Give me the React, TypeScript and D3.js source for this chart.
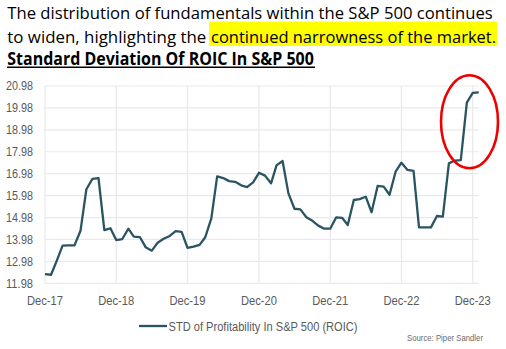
import React from "react";
import * as d3 from "d3";

const START_YEAR = 2017;
const START_MONTH = 11; // December
const roicStd: number[] = [
  12.40, 12.37, 13.05, 13.70, 13.71, 13.71, 14.38, 16.27, 16.74, 16.78, 14.41, 14.49,
  13.95, 14.00, 14.47, 14.11, 14.09, 13.62, 13.47, 13.83, 14.01, 14.14, 14.36, 14.33,
  13.60, 13.65, 13.73, 14.08, 14.94, 16.86, 16.78, 16.64, 16.61, 16.45, 16.37, 16.58,
  17.02, 16.89, 16.54, 17.36, 17.56, 16.08, 15.38, 15.35, 14.99, 14.83, 14.61, 14.47,
  14.47, 14.99, 14.96, 14.64, 15.78, 15.82, 15.93, 15.22, 16.42, 16.39, 16.02, 17.07,
  17.48, 17.15, 17.11, 14.53, 14.53, 14.53, 15.05, 15.02, 17.45, 17.58, 17.60, 20.22,
  20.67, 20.69,
];
const yTicks: number[] = [11.98, 12.98, 13.98, 14.98, 15.98, 16.98, 17.98, 18.98, 19.98, 20.98];
const xTickLabels: string[] = ["Dec-17", "Dec-18", "Dec-19", "Dec-20", "Dec-21", "Dec-22", "Dec-23"];
const xTickYears: number[] = [2017, 2018, 2019, 2020, 2021, 2022, 2023];
const titleLine1 = "The distribution of fundamentals within the S&P 500 continues";
const titleLine2a = "to widen, highlighting the";
const titleLine2b = "continued narrowness of the market.";
const subtitle = "Standard Deviation Of ROIC In S&P 500";
const legendLabel = "STD of Profitability In S&P 500 (ROIC)";
const sourceLabel = "Source: Piper Sandler";

export default function App() {
  const data = roicStd.map((v, i) => ({ date: new Date(START_YEAR, START_MONTH + i, 1), v }));
  const x = d3
    .scaleTime()
    .domain([new Date(2017, 11, 1), new Date(2023, 11, 1)])
    .range([45, 472.7]);
  const y = d3.scaleLinear().domain([11.98, 20.98]).range([283.3, 86]);
  const gridRight = 478.5;
  const line = d3
    .line<{ date: Date; v: number }>()
    .x((d) => x(d.date))
    .y((d) => y(d.v));
  const font = "'Liberation Sans', Arial, sans-serif";
  const titleFont = "'Open Sans', 'Noto Sans', sans-serif";
  const grey = "#595959";

  return (
    <svg
      width={506}
      height={349}
      style={{ position: "absolute", left: 0, top: 0, background: "#fff" }}
    >
      <rect x={0} y={0} width={506} height={349} fill="#fff" />
      {/* Title */}
      <text x={7.3} y={19.3} fontFamily={titleFont} fontSize={17} fill="#000"
        textLength={485.5} lengthAdjust="spacingAndGlyphs">{titleLine1}</text>
      <rect x={209} y={21.5} width={288} height={24.5} fill="#ffff00" />
      <text x={7.3} y={43.3} fontFamily={titleFont} fontSize={17} fill="#000"
        textLength={199} lengthAdjust="spacingAndGlyphs">{titleLine2a}</text>
      <text x={211} y={43.3} fontFamily={titleFont} fontSize={17} fill="#000"
        textLength={285} lengthAdjust="spacingAndGlyphs">{titleLine2b}</text>
      <text x={7.3} y={64.5} fontFamily={titleFont} fontSize={17} fontWeight="bold" fill="#000"
        textLength={306.5} lengthAdjust="spacingAndGlyphs">{subtitle}</text>
      <line x1={7} x2={315} y1={67.3} y2={67.3} stroke="#000" strokeWidth={1.5} />

      {/* Grid */}
      {yTicks.map((t) => (
        <line key={"h" + t} x1={45} x2={gridRight} y1={y(t)} y2={y(t)} stroke="#e9e9e9" strokeWidth={1.2} />
      ))}
      {xTickYears.map((yr) => (
        <line key={"v" + yr} x1={x(new Date(yr, 11, 1))} x2={x(new Date(yr, 11, 1))} y1={y(20.98)} y2={y(11.98)}
          stroke="#e9e9e9" strokeWidth={1.2} />
      ))}

      {/* Y labels */}
      {yTicks.map((t) => (
        <text key={"yl" + t} x={33} y={y(t) + 4.3} textAnchor="end" fontFamily={font} fontSize={12}
          fill={grey} textLength={27} lengthAdjust="spacingAndGlyphs">{t.toFixed(2)}</text>
      ))}
      {/* X labels */}
      {xTickYears.map((yr, i) => (
        <text key={"xl" + yr} x={x(new Date(yr, 11, 1)) - 18} y={304.5} fontFamily={font} fontSize={12.5}
          fill={grey} textLength={36} lengthAdjust="spacingAndGlyphs">{xTickLabels[i]}</text>
      ))}

      {/* Line */}
      <path d={line(data) || ""} fill="none" stroke="#2b5461" strokeWidth={2.3} strokeLinejoin="round" />

      {/* Red ellipse */}
      <ellipse cx={469.5} cy={121.7} rx={28.5} ry={46.5} fill="none" stroke="#ee0000" strokeWidth={2.6} />

      {/* Legend */}
      <line x1={139} x2={167} y1={326} y2={326} stroke="#2b5461" strokeWidth={2.3} />
      <text x={168.5} y={330.8} fontFamily={font} fontSize={12.5} fill={grey}
        textLength={189} lengthAdjust="spacingAndGlyphs">{legendLabel}</text>
      <text x={407} y={340.5} fontFamily={font} fontSize={8.5} fill="#6b6b6b"
        textLength={76} lengthAdjust="spacingAndGlyphs">{sourceLabel}</text>
    </svg>
  );
}
